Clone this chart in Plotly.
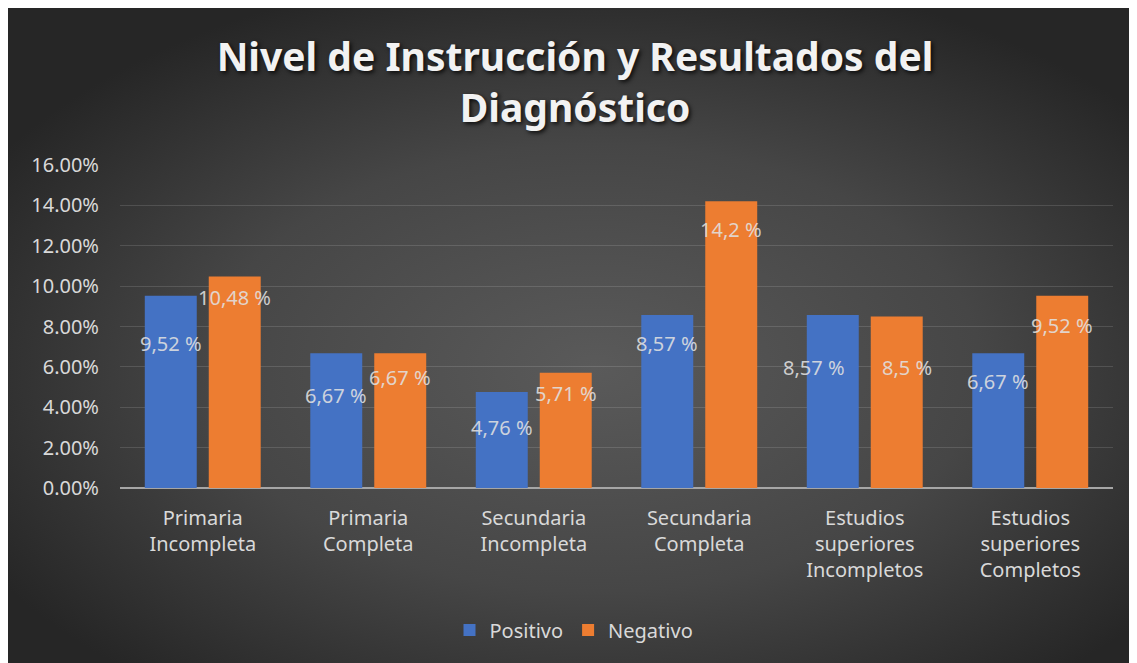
import base64
import plotly.graph_objects as go

# ------------------------------------------------------
# DATA
# ------------------------------------------------------
categorias = [
    "Primaria<br>Incompleta",
    "Primaria<br>Completa",
    "Secundaria<br>Incompleta",
    "Secundaria<br>Completa",
    "Estudios<br>superiores<br>Incompletos",
    "Estudios<br>superiores<br>Completos",
]
positivo = [9.52, 6.67, 4.76, 8.57, 8.57, 6.67]
negativo = [10.48, 6.67, 5.71, 14.2, 8.5, 9.52]
etiq_positivo = ["9,52 %", "6,67 %", "4,76 %", "8,57 %", "8,57 %", "6,67 %"]
etiq_negativo = ["10,48 %", "6,67 %", "5,71 %", "14,2 %", "8,5 %", "9,52 %"]

# label placement (pixels below bar top, extra x nudge) as set by hand in the original
pos_dy = [48, 42, 36, 29, 53, 28]
neg_dy = [21, 24, 21, 28, 51, 30]
pos_dx = [0, 0, 0, 0, -19, 0]
neg_dx = [0, 0, 0, 0, 10, 0]

# ------------------------------------------------------
# LAYOUT GEOMETRY
# (page body keeps its 8px margin -> that is the white frame)
# ------------------------------------------------------
W, H = 1129, 655
L, R, T, B = 112, 24, 157, 175
pw, ph = W - L - R, H - T - B
FONT = "Noto Sans"
TXT = "#d9d9d9"

# radial gradient background as svg
svg = (
    "<svg xmlns='http://www.w3.org/2000/svg' width='1129' height='655' "
    "viewBox='0 0 1129 655' preserveAspectRatio='none'>"
    "<defs><radialGradient id='g' cx='0.52' cy='0.55' r='0.62'>"
    "<stop offset='0' stop-color='#5a5a5a'/>"
    "<stop offset='0.55' stop-color='#464646'/>"
    "<stop offset='1' stop-color='#262626'/>"
    "</radialGradient></defs>"
    "<rect width='1129' height='655' fill='url(#g)'/></svg>"
)
bg_uri = "data:image/svg+xml;base64," + base64.b64encode(svg.encode()).decode()

fig = go.Figure()

fig.add_trace(go.Bar(
    x=categorias, y=positivo, name="Positivo",
    marker=dict(color="#4472c4", line=dict(width=0)),
))
fig.add_trace(go.Bar(
    x=categorias, y=negativo, name="Negativo",
    marker=dict(color="#ed7d31", line=dict(width=0)),
))

# --- data labels ---
lbl_font = dict(family=FONT, size=20, color="rgba(225,225,225,0.88)")
annotations = []
for i, cat in enumerate(categorias):
    annotations.append(dict(
        x=cat, y=positivo[i], text=etiq_positivo[i], showarrow=False,
        xshift=-32 + pos_dx[i], yshift=-pos_dy[i], yanchor="middle",
        font=lbl_font,
    ))
    annotations.append(dict(
        x=cat, y=negativo[i], text=etiq_negativo[i], showarrow=False,
        xshift=32 + neg_dx[i], yshift=-neg_dy[i], yanchor="middle",
        font=lbl_font,
    ))

fig.update_layout(
    width=W, height=H,
    margin=dict(l=L, r=R, t=T, b=B, autoexpand=False),
    paper_bgcolor="#333333",
    plot_bgcolor="rgba(0,0,0,0)",
    title=dict(
        text="Nivel de Instrucción y Resultados del<br>Diagnóstico",
        x=(567 - L) / pw, xref="paper", xanchor="center",
        y=1 - 63 / H, yanchor="middle",
        font=dict(family=FONT, size=39, color="#f2f2f2", weight="bold",
                  shadow="2px 2px 4px rgba(0,0,0,0.8)"),
    ),
    barmode="group",
    bargap=0.227,
    bargroupgap=0.1875,
    xaxis=dict(
        showgrid=False, ticks="", showline=False,
        tickfont=dict(family=FONT, size=20, color=TXT),
        ticklabelstandoff=16,
    ),
    yaxis=dict(
        range=[0, 16], dtick=2, tickformat=".2f", ticksuffix="%",
        showgrid=True, gridcolor="rgba(255,255,255,0.13)", gridwidth=1,
        zeroline=True, zerolinecolor="#a6a6a6", zerolinewidth=2,
        ticks="", ticklabelstandoff=20,
        tickfont=dict(family=FONT, size=20, color=TXT),
    ),
    legend=dict(
        orientation="h", x=(566 - L) / pw, xanchor="center",
        y=-(622 - (H - B)) / ph, yanchor="middle",
        font=dict(family=FONT, size=20, color=TXT),
        bgcolor="rgba(0,0,0,0)", itemwidth=30,
    ),
    annotations=annotations,
    images=[dict(
        source=bg_uri, xref="paper", yref="paper",
        x=-L / pw, y=1 + T / ph, sizex=W / pw, sizey=H / ph,
        xanchor="left", yanchor="top", sizing="stretch", layer="below",
    )],
)

fig.write_html("out.html")
